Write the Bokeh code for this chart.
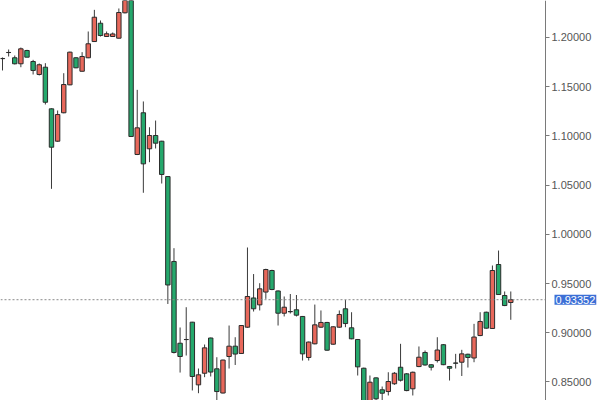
from bokeh.plotting import figure
from bokeh.models import (Range1d, FixedTicker, NumeralTickFormatter, Label, LinearAxis,
                          ColumnDataSource)
from bokeh.embed import file_html
from bokeh.resources import INLINE

# Daily OHLC candles (price)
opens = [1.1787, 1.1848, 1.1794, 1.1733, 1.1868, 1.1756, 1.1624, 1.1698, 1.1275, 1.0946,
         1.1235, 1.1519, 1.1794, 1.1657, 1.1794, 1.1959, 1.2145, 1.2010, 1.2010, 1.1993,
         1.2251, 1.2470, 1.0811, 1.1235, 1.0869, 1.1004, 1.0946, 1.0587, 0.9724, 0.8893,
         0.8931, 0.9107, 0.8470, 0.8588, 0.8946, 0.8633, 0.8387, 0.8758, 0.8863, 0.8789,
         0.9056, 0.9353, 0.9283, 0.9413, 0.9632, 0.9424, 0.9198, 0.9215, 0.9233, 0.9165,
         0.8748, 0.8887, 0.9056, 0.9104, 0.8883, 0.9056, 0.9243, 0.9050, 0.8931, 0.8639,
         0.8300, 0.8541, 0.8420, 0.8402, 0.8481, 0.8649, 0.8582, 0.8430, 0.8656, 0.8799,
         0.8674, 0.8717, 0.8878, 0.8656, 0.8692, 0.8700, 0.8781, 0.8743, 0.8971, 0.9208,
         0.9043, 0.9693, 0.9378, 0.9307]
highs = [1.1797, 1.1878, 1.1817, 1.1898, 1.1875, 1.1773, 1.1736, 1.1739, 1.1280, 1.1258,
         1.1637, 1.1856, 1.1800, 1.1851, 1.2061, 1.2281, 1.2173, 1.2061, 1.2051, 1.2295,
         1.2520, 1.2510, 1.1468, 1.1350, 1.1088, 1.1156, 1.0950, 1.0590, 0.9859, 0.9053,
         0.9259, 0.9110, 0.8636, 0.8880, 0.8950, 0.8751, 0.8726, 0.9073, 0.8954, 0.9078,
         0.9866, 0.9596, 0.9503, 0.9650, 0.9640, 0.9430, 0.9368, 0.9393, 0.9383, 0.9170,
         0.8910, 0.9286, 0.9226, 0.9110, 0.9066, 0.9226, 0.9332, 0.9208, 0.8936, 0.8645,
         0.8565, 0.8546, 0.8453, 0.8598, 0.8600, 0.8887, 0.8590, 0.8605, 0.8860, 0.8819,
         0.8680, 0.8954, 0.8885, 0.8662, 0.8785, 0.8826, 0.8787, 0.9090, 0.9208, 0.9214,
         0.9683, 0.9835, 0.9419, 0.9419]
lows = [1.1665, 1.1807, 1.1726, 1.1698, 1.1800, 1.1624, 1.1614, 1.1319, 1.0462, 1.0940,
        1.1230, 1.1515, 1.1688, 1.1655, 1.1790, 1.1955, 1.2010, 1.2005, 1.2005, 1.1990,
        1.2245, 1.0990, 1.0805, 1.0422, 1.0733, 1.0872, 1.0516, 0.9292, 0.8789, 0.8595,
        0.8768, 0.8413, 0.8385, 0.8548, 0.8555, 0.8316, 0.8383, 0.8636, 0.8672, 0.8785,
        0.9050, 0.9215, 0.9226, 0.9344, 0.9432, 0.9073, 0.9165, 0.9195, 0.9165, 0.8717,
        0.8717, 0.8882, 0.9050, 0.8818, 0.8878, 0.9050, 0.9056, 0.8933, 0.8565, 0.8280,
        0.8280, 0.8290, 0.8300, 0.8362, 0.8470, 0.8504, 0.8405, 0.8362, 0.8650, 0.8665,
        0.8616, 0.8697, 0.8670, 0.8514, 0.8636, 0.8560, 0.8646, 0.8700, 0.8965, 0.9040,
        0.9038, 0.9383, 0.9270, 0.9131]
closes = [1.1785, 1.1847, 1.1733, 1.1885, 1.1800, 1.1665, 1.1723, 1.1342, 1.0885, 1.1217,
          1.1522, 1.1851, 1.1692, 1.1807, 1.1936, 1.2206, 1.2020, 1.2038, 1.2036, 1.2254,
          1.2480, 1.0994, 1.1082, 1.0716, 1.1004, 1.0926, 1.0608, 0.9485, 0.8799, 0.8758,
          0.8930, 0.8555, 0.8572, 0.8846, 0.8600, 0.8402, 0.8722, 0.8863, 0.8783, 0.9073,
          0.9368, 0.9243, 0.9446, 0.9642, 0.9439, 0.9198, 0.9259, 0.9213, 0.9178, 0.8785,
          0.8905, 0.9080, 0.9104, 0.8822, 0.9060, 0.9185, 0.9093, 0.8938, 0.8653, 0.8300,
          0.8497, 0.8328, 0.8385, 0.8504, 0.8588, 0.8517, 0.8412, 0.8598, 0.8751, 0.8672,
          0.8649, 0.8824, 0.8675, 0.8639, 0.8690, 0.8785, 0.8748, 0.8956, 0.9114, 0.9046,
          0.9632, 0.9388, 0.9276, 0.93352]

price_ticks = [0.85, 0.90, 0.95, 1.00, 1.05, 1.10, 1.15, 1.20]
last_price = closes[-1]

UP_FILL = "#e8685b"
DOWN_FILL = "#25a86c"
EDGE = "#2b2b2b"

# horizontal extent in bar-index units; the price scale sits at AXIS_X
X_START, AXIS_X, X_END = -0.327, 88.67, 97.65

idx = list(range(len(opens)))
rising = [c >= o for o, c in zip(opens, closes)]
src = ColumnDataSource(dict(
    x=idx,
    high=highs,
    low=lows,
    top=[max(o, c) for o, c in zip(opens, closes)],
    bottom=[min(o, c) for o, c in zip(opens, closes)],
    fill=[UP_FILL if r else DOWN_FILL for r in rising],
))

p = figure(
    width=600, height=400,
    x_range=Range1d(X_START, X_END),
    y_range=Range1d(0.8311, 1.2376),
    x_axis_location=None, y_axis_location=None,
    toolbar_location=None, output_backend="svg",
    min_border=0,
)
p.outline_line_color = None
p.grid.visible = False
p.background_fill_color = "white"
p.border_fill_color = "white"

# price scale pinned just right of the last candles, labels on its right
ax = LinearAxis(fixed_location=AXIS_X)
ax.ticker = FixedTicker(ticks=price_ticks)
ax.formatter = NumeralTickFormatter(format="0.00000")
ax.axis_line_color = "#7a7a7a"
ax.major_tick_line_color = "#7a7a7a"
ax.major_tick_out = 4
ax.major_tick_in = 0
ax.minor_tick_line_color = None
ax.major_label_standoff = 2
ax.major_label_text_font = "Liberation Sans"
ax.major_label_text_font_size = "11px"
ax.major_label_text_color = "#555555"
p.add_layout(ax, "right")

# wicks, then bodies on top
p.segment(x0="x", y0="high", x1="x", y1="low", source=src, line_color="#3a3a3a", line_width=1)
p.vbar(x="x", width=0.72, top="top", bottom="bottom", source=src,
       fill_color="fill", line_color=EDGE, line_width=1)

# last-price marker: dotted line up to the scale and a badge on it
p.segment(x0=[X_START], y0=[last_price], x1=[AXIS_X], y1=[last_price],
          line_color="#8a8a8a", line_dash="2 2", line_width=1)
badge = Label(x=AXIS_X, y=last_price, x_offset=9,
              text=f"{last_price:.5f}", text_color="white",
              text_font="Liberation Sans", text_font_size="11px",
              text_baseline="middle", text_align="left",
              background_fill_color="#3c6fd6", padding=1)
p.add_layout(badge)

open("out.html", "w").write(file_html(p, INLINE))
